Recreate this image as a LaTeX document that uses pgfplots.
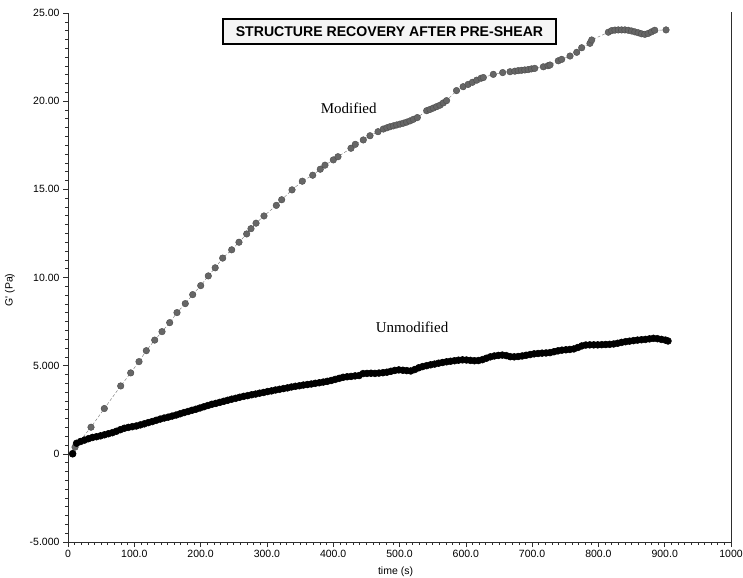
\documentclass[border=0pt]{standalone}
\usepackage{pgfplots}
\pgfplotsset{compat=1.18}
\usepackage{fontspec}
\setmainfont{Liberation Sans}
\newfontfamily\serifx{Liberation Serif}

\definecolor{modgray}{HTML}{666666}
\definecolor{axisgray}{HTML}{2E2E2E}

% G' of the modified sample after pre-shear
\pgfplotstableread{
t G
7 0.02
10.6 0.38
34.7 1.51
54.8 2.57
79.5 3.85
94.6 4.59
107.1 5.23
118.1 5.85
130.8 6.45
141.8 6.93
153.4 7.44
164.4 8.01
176.9 8.52
188.1 9.03
200.2 9.54
211.6 10.09
222 10.55
233.3 11.10
246.9 11.57
257.9 12.00
269.5 12.47
276 12.77
283.6 13.08
295.6 13.49
314.2 14.09
322.3 14.41
337.9 14.97
353.4 15.46
369.1 15.80
380.5 16.14
387.6 16.37
400.2 16.67
407.2 16.85
426.8 17.33
433.3 17.55
445.4 17.80
455.5 18.04
467.6 18.27
475.6 18.42
481 18.49
485.7 18.55
490.8 18.60
495.8 18.65
500.8 18.70
505.8 18.75
510.8 18.81
515.8 18.88
521 18.97
526.9 19.07
541 19.46
546 19.53
551 19.61
556 19.69
561 19.77
566 19.90
571 20.03
586 20.60
596 20.82
603.5 20.95
610 21.07
616.5 21.19
623 21.30
626.5 21.34
641.5 21.52
655.6 21.62
666.7 21.67
674 21.70
679 21.73
684 21.75
689 21.77
694 21.79
699 21.83
704 21.86
717 21.95
724 22.01
727 22.05
739.5 22.29
744.6 22.37
757.2 22.56
767.3 22.77
774.8 23.03
787.3 23.28
789.9 23.47
815 23.91
820 24.00
825 24.03
830 24.04
835 24.04
840 24.04
845 24.02
850 23.98
855 23.93
860 23.88
865 23.82
870 23.79
875 23.84
880 23.93
885 24.02
902 24.04
}\modified

% G' of the unmodified sample after pre-shear
\pgfplotstableread{
t G
7 0.00
13 0.60
19 0.70
25 0.78
31 0.86
37 0.93
43 0.97
49 1.02
55 1.08
61 1.14
67 1.20
73 1.28
79 1.37
85 1.45
91 1.50
97 1.54
103 1.58
109 1.64
115 1.70
121 1.77
127 1.83
133 1.90
139 1.97
145 2.03
151 2.08
157 2.14
163 2.20
169 2.27
175 2.34
181 2.40
187 2.47
193 2.53
199 2.60
205 2.67
211 2.74
217 2.81
223 2.86
229 2.92
235 2.98
241 3.04
247 3.10
253 3.15
259 3.21
265 3.26
271 3.30
277 3.35
283 3.39
289 3.44
295 3.48
301 3.53
307 3.57
313 3.62
319 3.66
325 3.70
331 3.74
337 3.79
343 3.83
349 3.86
355 3.90
361 3.93
367 3.96
373 4.00
379 4.03
385 4.07
391 4.11
397 4.16
403 4.22
409 4.28
415 4.34
421 4.37
427 4.39
433 4.42
439 4.44
445 4.55
451 4.56
457 4.57
463 4.56
469 4.58
475 4.60
481 4.63
487 4.68
493 4.73
499 4.76
505 4.74
511 4.72
517 4.70
523 4.78
529 4.88
535 4.95
541 5.00
547 5.05
553 5.09
559 5.14
565 5.18
571 5.22
577 5.25
583 5.28
589 5.31
595 5.33
601 5.32
607 5.30
613 5.28
619 5.29
625 5.34
631 5.42
637 5.50
643 5.55
649 5.58
655 5.60
661 5.57
667 5.51
673 5.50
679 5.52
685 5.55
691 5.59
697 5.63
703 5.67
709 5.69
715 5.71
721 5.72
727 5.74
733 5.79
739 5.84
745 5.88
751 5.90
757 5.92
763 5.95
769 6.03
775 6.12
781 6.17
787 6.18
793 6.18
799 6.18
805 6.19
811 6.20
817 6.21
823 6.23
829 6.27
835 6.32
841 6.36
847 6.39
853 6.42
859 6.45
865 6.47
871 6.49
877 6.52
883 6.55
889 6.53
895 6.49
901 6.45
905 6.40
}\unmodified

\begin{document}
\begin{tikzpicture}
\useasboundingbox (-68bp,-36bp) rectangle (675bp,542bp);
\begin{axis}[
  name=ax,
  at={(0,0)}, anchor=south west,
  scale only axis, width=663bp, height=529bp,
  xmin=0, xmax=1000, ymin=-5, ymax=25,
  axis x line*=bottom, axis y line*=left,
  axis line style={axisgray, line width=0.8bp},
  tick style={axisgray, line width=0.6bp},
  tick align=outside,
  major tick length=5bp, minor tick length=2.5bp,
  xtick={0,100,200,300,400,500,600,700,800,900,1000},
  xticklabels={0,100.0,200.0,300.0,400.0,500.0,600.0,700.0,800.0,900.0,1000},
  minor x tick num=9,
  ytick={-5,0,5,10,15,20,25},
  yticklabels={-5.000,0,5.000,10.00,15.00,20.00,25.00},
  minor y tick num=9,
  tick label style={font=\fontsize{10.5bp}{12bp}\selectfont, black},
  clip=false,
]
\addplot[modgray!85, densely dashed, line width=0.45bp,
  mark=*, mark size=3.3bp,
  mark options={solid, fill=modgray, draw=modgray!75!black, line width=0.4bp}]
  table[x=t, y=G] {\modified};
\addplot[black, line width=0.6bp,
  mark=*, mark size=3.4bp, mark options={fill=black}]
  table[x=t, y=G] {\unmodified};

\node[draw=black, line width=1.6bp, fill=gray!8, minimum width=333bp,
  minimum height=25bp, inner sep=0pt,
  font=\bfseries\fontsize{14.1bp}{16bp}\selectfont]
  at (axis cs:484.9,23.95) {STRUCTURE RECOVERY AFTER PRE-SHEAR};
\node[anchor=base, font=\serifx\fontsize{15bp}{18bp}\selectfont]
  at (axis cs:423.4,19.31) {Modified};
\node[anchor=base, font=\serifx\fontsize{15bp}{18bp}\selectfont]
  at (axis cs:518.9,6.87) {Unmodified};
\node[anchor=base, font=\fontsize{10.5bp}{12bp}\selectfont]
  at (axis cs:494,-6.82) {time (s)};
\node[rotate=90, anchor=center, font=\fontsize{10.5bp}{12bp}\selectfont]
  at (axis cs:-87.5,9.29) {G\textquotesingle{} (Pa)};
\end{axis}
\draw[axisgray, line width=0.8bp] (ax.south east) -- ([yshift=1bp]ax.north east);
\end{tikzpicture}
\end{document}
